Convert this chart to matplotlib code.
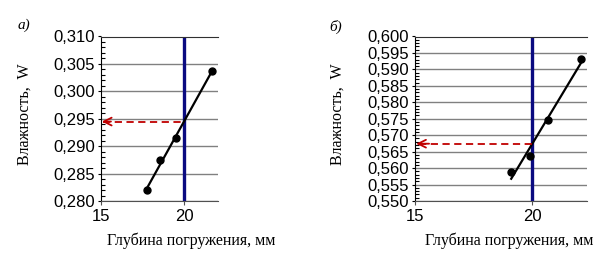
import numpy as np
import matplotlib.pyplot as plt
from matplotlib.ticker import MultipleLocator, FuncFormatter

# данные: глубина погружения (мм) и влажность W
depth_a = [17.8, 18.55, 19.5, 21.7]
moist_a = [0.2820, 0.2874, 0.2915, 0.3037]
depth_b = [19.1, 19.9, 20.67, 22.09]
moist_b = [0.5589, 0.5638, 0.5746, 0.5932]
cone_depth = 20
panel_names = ['а)', 'б)']
xlabel = 'Глубина погружения, мм'
ylabel = 'Влажность,  W'

plt.rcParams['font.family'] = ['Liberation Sans', 'DejaVu Sans']

fig = plt.figure(figsize=(6.09, 2.6), dpi=100)
W, H = 609, 260


def make_axes(left, right, top, bottom):
    return fig.add_axes([left / W, 1 - bottom / H, (right - left) / W, (bottom - top) / H])


ax_a = make_axes(101, 218, 36.5, 201)
ax_b = make_axes(415, 587, 36.5, 201)

panels = [
    (ax_a, depth_a, moist_a, (15, 22.05), (0.280, 0.310), 191, 25, 18, 25),
    (ax_b, depth_b, moist_b, (15, 22.33), (0.550, 0.600), 509, 338, 329, 27),
]

comma = FuncFormatter(lambda v, p: f'{v:.3f}'.replace('.', ','))

for i, (ax, x, y, xl, yl, xlab_x, ylab_x, lab_x, lab_y) in enumerate(panels):
    ax.set_xlim(*xl)
    ax.set_ylim(*yl)
    ax.yaxis.set_major_locator(MultipleLocator(0.005))
    ax.yaxis.set_minor_locator(MultipleLocator(0.001))
    ax.yaxis.set_major_formatter(comma)
    ax.set_xticks([15, 20])
    ax.grid(axis='y', color='#808080', linewidth=1.0, zorder=0)
    ax.tick_params(axis='y', which='major', direction='out', length=2.5, width=0.8,
                   labelsize=12, pad=2, colors='#000000')
    ax.tick_params(axis='y', which='minor', direction='in', length=3, width=0.8)
    ax.tick_params(axis='x', which='major', direction='out', length=3, width=0.8,
                   labelsize=12, pad=3, color='#505050')
    ax.spines['right'].set_visible(False)
    ax.spines['top'].set_color('#303030')
    ax.spines['left'].set_color('black')
    ax.spines['bottom'].set_color('#505050')

    # линейная аппроксимация
    k, b = np.polyfit(x, y, 1)
    xs = np.array([min(x), max(x)])
    ax.plot(xs, k * xs + b, color='black', linewidth=1.6, zorder=3)
    ax.plot(x, y, 'o', color='black', markersize=5, zorder=4)

    ax.axvline(cone_depth, color='#0a0a80', linewidth=2.4, zorder=2)

    w20 = k * cone_depth + b
    ax.plot([xl[0] + 0.15, cone_depth], [w20, w20], color='#c00000',
            linestyle=(0, (4, 2.5)), linewidth=1.3, zorder=3)
    ax.annotate('', xy=(xl[0] + 0.05, w20), xytext=(xl[0] + 0.6, w20),
                arrowprops=dict(arrowstyle='->', color='#c00000', lw=1.3,
                                shrinkA=0, shrinkB=0, mutation_scale=14), zorder=3)

    fig.text(xlab_x / W, 1 - 241 / H, xlabel, family='Liberation Serif',
             fontsize=11.5, ha='center', va='center')
    fig.text(ylab_x / W, 1 - 114 / H, ylabel, family='Liberation Serif',
             fontsize=11.5, ha='center', va='center', rotation=90)
    fig.text(lab_x / W, 1 - lab_y / H, panel_names[i], family='Liberation Serif',
             style='italic', fontsize=11, ha='left', va='center')

plt.savefig('out.png', dpi=100)
